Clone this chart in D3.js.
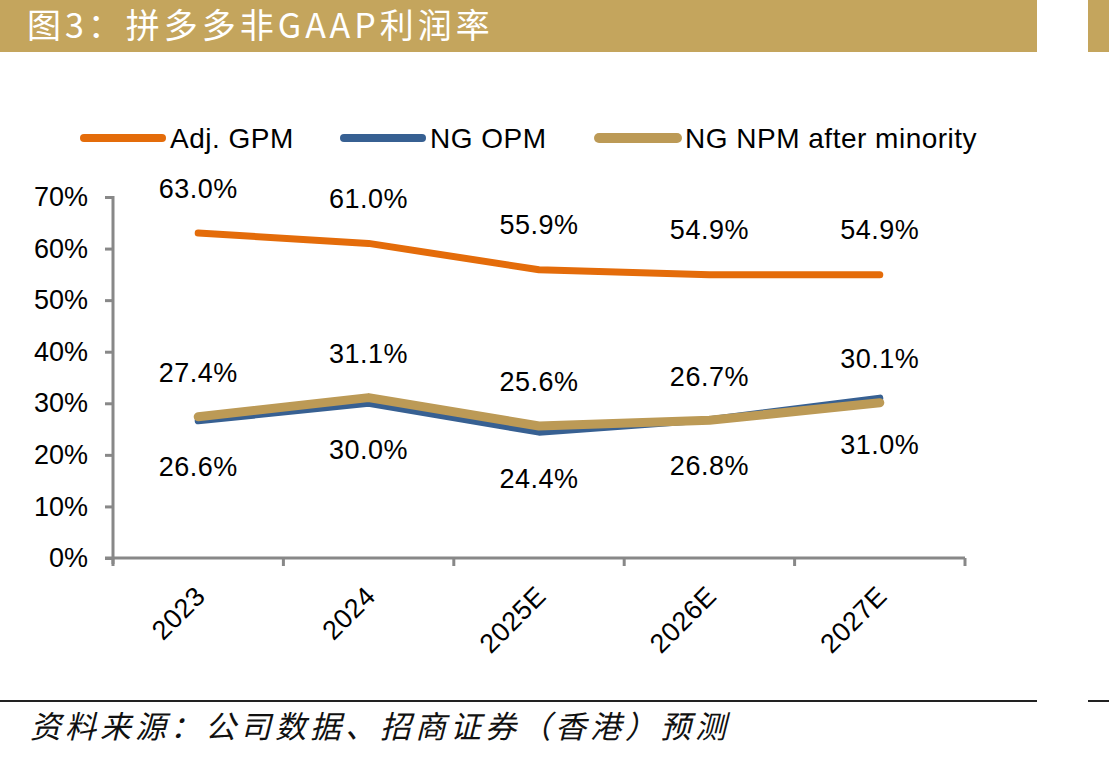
<!DOCTYPE html>
<html>
<head>
<meta charset="utf-8">
<script src="https://cdn.jsdelivr.net/npm/d3@7"></script>
<style>
  body { margin: 0; background: #fff; }
  svg { display: block; }
  text { font-family: "Liberation Sans", Arial, sans-serif; }
  .cjk { font-family: "Noto Sans CJK SC", sans-serif; }
</style>
</head>
<body>
<div id="chart-area"></div>
<script>
// data
let categories = ["2023", "2024", "2025E", "2026E", "2027E"];
let adjGpm = [63.0, 61.0, 55.9, 54.9, 54.9];
let ngOpm = [26.6, 30.0, 24.4, 26.8, 31.0];
let ngNpm = [27.4, 31.1, 25.6, 26.7, 30.1];
let yTicks = [0, 10, 20, 30, 40, 50, 60, 70];

let series = [
    { name: "Adj. GPM", values: adjGpm, color: "#E46C0A", width: 7, labelDy: -45 },
    { name: "NG OPM", values: ngOpm, color: "#376092", width: 7, labelDy: 46 },
    { name: "NG NPM after minority", values: ngNpm, color: "#BC9A56", width: 9, labelDy: -44 }
];

let W = 1109, H = 759;
let svg = d3.select("#chart-area").append("svg")
    .attr("width", W)
    .attr("height", H);

// title bar
svg.append("rect").attr("x", 0).attr("y", 0).attr("width", 1037).attr("height", 52).attr("fill", "#C4A55D");
svg.append("rect").attr("x", 1088).attr("y", 0).attr("width", 21).attr("height", 52).attr("fill", "#C4A55D");
svg.append("text")
    .attr("class", "cjk")
    .attr("x", 27)
    .attr("y", 38)
    .attr("fill", "white")
    .attr("font-size", 34)
    .attr("letter-spacing", 4)
    .text("图3：拼多多非GAAP利润率");

// footer
svg.append("line").attr("x1", 0).attr("x2", 1037).attr("y1", 701).attr("y2", 701)
    .attr("stroke", "#222").attr("stroke-width", 2);
svg.append("line").attr("x1", 1088).attr("x2", 1109).attr("y1", 701).attr("y2", 701)
    .attr("stroke", "#222").attr("stroke-width", 2);
svg.append("text")
    .attr("class", "cjk")
    .attr("x", 30)
    .attr("y", 738)
    .attr("font-size", 31)
    .attr("letter-spacing", 4)
    .attr("font-style", "italic")
    .attr("fill", "#111")
    .text("资料来源：公司数据、招商证券（香港）预测");

// plot
let x0 = 113, x1 = 965, yTop = 197, yBot = 558;

let x = d3.scaleBand()
    .domain(categories)
    .range([x0, x1]);

let y = d3.scaleLinear()
    .domain([0, 70])
    .range([yBot, yTop]);

let axisColor = "#888";
let fs = 27;

let yAxis = d3.axisLeft(y)
    .tickValues(yTicks)
    .tickSize(8)
    .tickPadding(17)
    .tickFormat(d => d + "%");

let gy = svg.append("g")
    .attr("transform", "translate(" + x0 + ",0)")
    .call(yAxis);
gy.select(".domain").remove();
gy.append("line").attr("x1", 0).attr("x2", 0).attr("y1", yTop - 1).attr("y2", yBot + 6)
    .attr("stroke", axisColor).attr("stroke-width", 3);
gy.selectAll(".tick line").attr("stroke", axisColor).attr("stroke-width", 3);
gy.selectAll(".tick text").attr("font-size", fs).attr("fill", "#000")
    .attr("font-family", "Liberation Sans, Arial, sans-serif");

// x axis: ticks at band edges
let gx = svg.append("g").attr("transform", "translate(0," + yBot + ")");
gx.append("line").attr("x1", x0 - 8).attr("x2", x1).attr("y1", 0).attr("y2", 0)
    .attr("stroke", axisColor).attr("stroke-width", 3);
let edges = categories.map(c => x(c)).concat([x1]);
gx.selectAll(".xtick").data(edges).enter().append("line")
    .attr("x1", d => d).attr("x2", d => d)
    .attr("y1", 0).attr("y2", 8)
    .attr("stroke", axisColor).attr("stroke-width", 3);
gx.selectAll(".xlabel").data(categories).enter().append("text")
    .attr("transform", d => "translate(" + (x(d) + x.bandwidth() / 2 + 2) + ",33) rotate(-45)")
    .attr("text-anchor", "end")
    .attr("dy", "0.35em")
    .attr("font-size", fs)
    .attr("letter-spacing", 0.5)
    .attr("fill", "#000")
    .text(d => d);

let cx = d => x(d) + x.bandwidth() / 2;

let line = d3.line()
    .x((d, i) => cx(categories[i]))
    .y(d => y(d));

// draw orange, blue, then gold on top
series.forEach(function (s) {
    svg.append("path")
        .datum(s.values)
        .attr("d", line)
        .attr("fill", "none")
        .attr("stroke", s.color)
        .attr("stroke-width", s.width)
        .attr("stroke-linecap", "round")
        .attr("stroke-linejoin", "round");
});

series.forEach(function (s) {
    svg.selectAll(null).data(s.values).enter().append("text")
        .attr("x", (d, i) => cx(categories[i]))
        .attr("y", d => y(d) + s.labelDy)
        .attr("dy", "0.35em")
        .attr("text-anchor", "middle")
        .attr("font-size", fs)
        .attr("letter-spacing", 0.5)
        .attr("fill", "#000")
        .text(d => d.toFixed(1) + "%");
});

// legend
let legendX = [80, 340, 595];
let legend = svg.selectAll(".legend").data(series).enter().append("g")
    .attr("transform", (d, i) => "translate(" + legendX[i] + ",138)");
legend.append("line")
    .attr("x1", 4).attr("x2", 82).attr("y1", 0).attr("y2", 0)
    .attr("stroke", d => d.color)
    .attr("stroke-width", d => d.width + 1)
    .attr("stroke-linecap", "round");
legend.append("text")
    .attr("x", 90)
    .attr("dy", "0.35em")
    .attr("font-size", 28)
    .attr("letter-spacing", 0.5)
    .attr("fill", "#000")
    .text(d => d.name);
</script>
</body>
</html>
